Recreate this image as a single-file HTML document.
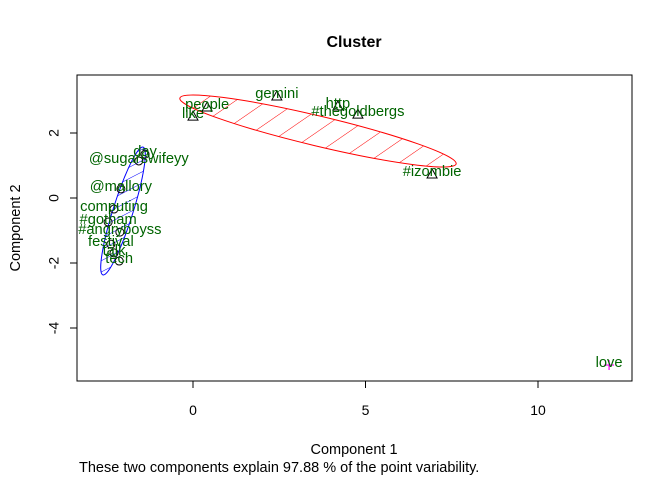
<!DOCTYPE html>
<html><head><meta charset="utf-8"><style>
body{margin:0;background:#fff}
svg text{font-family:"Liberation Sans",Arial,sans-serif}
</style></head><body>
<svg id="c" width="672" height="480" viewBox="0 0 672 480">
<defs>
<pattern id="hr" patternUnits="userSpaceOnUse" width="18" height="18" patternTransform="rotate(42)"><line x1="0" y1="0" x2="0" y2="18" stroke="#f00" stroke-width="1"/></pattern>
<pattern id="hb" patternUnits="userSpaceOnUse" width="10" height="10" patternTransform="rotate(45)"><line x1="0" y1="0" x2="0" y2="10" stroke="#00f" stroke-width="1"/></pattern>
<clipPath id="pc"><rect x="77" y="75" width="555" height="306"/></clipPath>
</defs>
<rect x="77" y="75" width="555" height="306" fill="none" stroke="#000"/>
<text x="354" y="47" font-size="16" font-weight="bold" text-anchor="middle">Cluster</text>
<text x="354" y="454" font-size="14.5" text-anchor="middle">Component 1</text>
<text x="20" y="228" font-size="14.5" text-anchor="middle" transform="rotate(-90 20 228)">Component 2</text>
<text x="79" y="472" font-size="14.5">These two components explain 97.88 % of the point variability.</text>
<g id="axes"></g>
<ellipse cx="318" cy="131" rx="142" ry="15" transform="rotate(13.4 318 131)" fill="url(#hr)" stroke="#f00"/>
<ellipse cx="123" cy="211" rx="10" ry="67" transform="rotate(17.5 123 211)" fill="url(#hb)" stroke="#00f"/>
<g id="pts" clip-path="url(#pc)"></g>
</svg>
<script>
const xTicks=[0,5,10];
const yTicks=[2,0,-2,-4];
const labels=["like","people","gemini","http","#thegoldbergs","#izombie","day","@sugarswifeyy","@mallory","computing","#gotham","#angryboyss","festival","talk","tech","love"];
const xs=[0,0.41,2.43,4.2,4.78,6.93,-1.39,-1.57,-2.09,-2.29,-2.46,-2.12,-2.38,-2.29,-2.14,12.06];
const ys=[2.52,2.8,3.14,2.83,2.58,0.74,1.35,1.14,0.28,-0.34,-0.74,-1.05,-1.42,-1.69,-1.94,-5.14];
const clusters=[1,1,1,1,1,1,2,2,2,2,2,2,2,2,2,3];
const sx=v=>193+v*34.5, sy=v=>198-v*32.5;
const NS="http://www.w3.org/2000/svg";
const ax=document.getElementById('axes'), pts=document.getElementById('pts');
function mk(t,a,p){const e=document.createElementNS(NS,t);for(const k in a)e.setAttribute(k,a[k]);p.appendChild(e);return e;}
xTicks.forEach(v=>{
 const l=mk('line',{x1:sx(v),x2:sx(v),y1:381,y2:388,stroke:'#000'},ax);
 
 
 const t=mk('text',{x:sx(v),y:415,'font-size':14,'text-anchor':'middle'},ax);t.textContent=v;
 
 
});
yTicks.forEach(v=>{
 const l=mk('line',{x1:70,x2:77,y1:sy(v),y2:sy(v),stroke:'#000'},ax);
 
 
 const t=mk('text',{x:55,y:sy(v),'font-size':14,'text-anchor':'middle',transform:`rotate(-90 55 ${sy(v)})`,'dominant-baseline':'middle'},ax);t.textContent=v;
 
 
});
labels.forEach((lab,i)=>{
 const x=sx(xs[i]),y=sy(ys[i]);let m;
 if(clusters[i]===1){m=mk('polygon',{points:`${x},${y-5} ${x-5},${y+4} ${x+5},${y+4}`,fill:'none',stroke:'#000'},pts);}
 else if(clusters[i]===2){m=mk('circle',{cx:x,cy:y,r:4,fill:'none',stroke:'#000'},pts);}
 else{m=mk('path',{d:`M${x-5},${y}H${x+5}M${x},${y-5}V${y+5}`,stroke:'#f0f','stroke-width':1.2},pts);}
 
 
 const t=mk('text',{x:x,y:y+2,'font-size':14.7,'text-anchor':'middle',fill:'#006400'},pts);t.textContent=lab;
 
 
});
</script>
</body></html>
